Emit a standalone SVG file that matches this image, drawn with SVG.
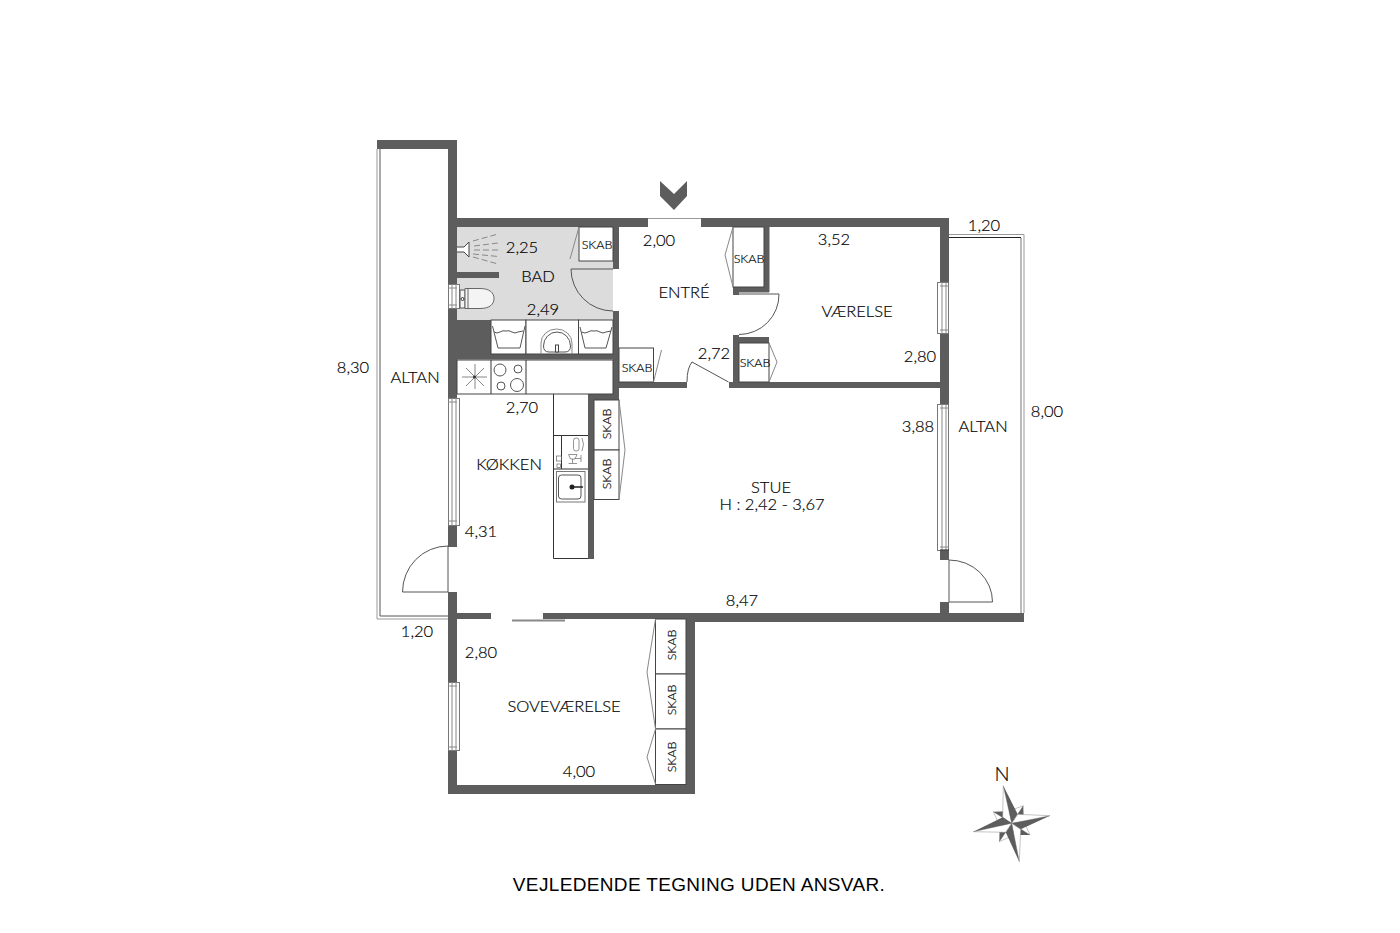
<svg xmlns="http://www.w3.org/2000/svg" width="1400" height="933" viewBox="0 0 1400 933">
<style>
.w{fill:#5d5d5d}
.l{fill:none;stroke:#555;stroke-width:1}
.k{fill:none;stroke:#333;stroke-width:1}
.g{fill:none;stroke:#888;stroke-width:1}
.t{fill:none;stroke:#666;stroke-width:.7}
.b{fill:#fff;stroke:#444;stroke-width:1}
.win{fill:#fff;stroke:#777;stroke-width:1}
.d{fill:#5d5d5d}
.p{fill:#fff;stroke:#888;stroke-width:.5}
text{font-family:Lato,"Noto Sans",sans-serif;font-size:16.500px;font-weight:300;fill:#000;stroke:#111;stroke-width:.2px;text-anchor:middle}
.s{font-size:12.500px}
.f{font-family:"Liberation Sans",Arial,sans-serif;font-size:19px;font-weight:400;letter-spacing:.35px;stroke:none}
</style>
<rect width="1400" height="933" fill="#fff"/>
<g id="bath-floor">
<rect x="457" y="227" width="156" height="93" fill="#dcdcdc"/>
</g>
<g id="walls">
<rect class="w" x="377" y="140" width="80" height="9"/>
<rect class="w" x="448" y="140" width="9" height="654"/>
<rect class="w" x="457" y="218" width="191" height="9"/>
<rect class="w" x="701" y="218" width="248" height="9"/>
<rect class="w" x="940" y="218" width="9" height="404"/>
<rect class="w" x="457" y="272" width="42" height="6"/>
<rect class="w" x="613" y="227" width="6" height="42"/>
<rect class="w" x="613" y="311" width="6" height="89"/>
<rect class="w" x="457" y="320" width="34" height="39"/>
<rect class="w" x="457" y="354" width="162" height="5.500"/>
<rect class="w" x="613" y="382" width="74" height="6"/>
<rect class="w" x="729" y="382" width="220" height="6"/>
<rect class="w" x="733" y="335" width="6" height="53"/>
<rect class="w" x="733" y="337" width="36" height="6"/>
<rect class="w" x="764" y="227" width="5.500" height="65"/>
<rect class="w" x="733" y="287" width="36" height="5.500"/>
<rect class="w" x="733" y="287" width="6" height="8"/>
<rect class="w" x="588" y="394" width="31" height="6"/>
<rect class="w" x="588" y="394" width="6" height="165"/>
<rect class="w" x="457" y="613" width="34" height="6"/>
<rect class="w" x="543" y="613" width="152" height="6"/>
<rect class="w" x="686" y="613" width="338" height="9"/>
<rect class="w" x="686" y="613" width="9" height="181"/>
<rect class="w" x="448" y="785" width="247" height="9"/>
<rect x="448" y="547" width="9" height="45" fill="#fff"/>
<rect x="940" y="560" width="9" height="42" fill="#fff"/>
<rect x="940" y="404" width="9" height="146" fill="#fff"/>
</g>
<g id="railings">
<path d="M377 149V619H448" fill="none" stroke="#999" stroke-width="1"/>
<path d="M380 149V616H448" fill="none" stroke="#555" stroke-width="1"/>
<path d="M949 234.500H1024V613" fill="none" stroke="#999" stroke-width="1"/>
<path d="M949 237.500H1021" fill="none" stroke="#222" stroke-width="1"/>
<path d="M1021 238V613" fill="none" stroke="#777" stroke-width="1"/>
</g>
<g id="windows">
<g id="window-bad"><rect class="win" x="448.500" y="284.500" width="11" height="24"/><path class="g" d="M452 284V309M456 284V309M448 288H457M448 305H457"/></g>
<g id="window-kitchen"><rect class="win" x="448.500" y="398.500" width="11" height="127"/><path class="g" d="M452 398V525M456 398V525M448 402H457M448 521H457"/></g>
<g id="window-bedroom"><rect class="win" x="448.500" y="682.500" width="11" height="68"/><path class="g" d="M452 682V751M456 682V751M448 686H457M448 747H457"/></g>
<g id="window-room"><rect class="win" x="937.500" y="282.500" width="11" height="51"/><path class="g" d="M942 282V334M946 282V334M940 286H949M940 330H949"/></g>
<g id="window-living"><rect class="win" x="937.500" y="404.500" width="11" height="146"/><path class="g" d="M942 404V550M946 404V550M940 408H949M940 547H949"/><path d="M940 550H949" stroke="#222"/></g>
</g>
<g id="doors">
<path class="l" d="M448 546V592H402.500A45.500 46 0 0 1 448 546"/>
<path class="l" d="M949 560V602H992.500A43.500 42 0 0 0 949 560"/>
<path class="l" d="M739 294H779A40 40 0 0 1 739 334.500"/>
<path class="l" d="M613 269H571A42 42 0 0 0 613 311"/>
<path class="l" d="M687 382Q687 368 692 362L728.500 382"/>
<path d="M512 620.500H565" stroke="#888" stroke-width="2"/>
<path d="M648 218.500H701" stroke="#999" stroke-width="1"/>
</g>
<g id="bath-fixtures">
<g id="shower">
<path d="M457 247H464L469 242V257L464 252H457" fill="#fff" stroke="#444"/>
<path d="M473 241L498 234M474 246L498 243M474 250H498M473 254L498 256.500M473 257L498 264" fill="none" stroke="#888" stroke-dasharray="6 3"/>
</g>
<g id="toilet">
<rect x="460" y="290" width="5" height="18" fill="#f4f4f4" stroke="#555"/>
<path d="M465 288.500H480C490 288.500 494 293 494 298.500C494 304 490 308.500 480 308.500H465Z" fill="#f4f4f4" stroke="#666"/>
<path d="M468 289V308" stroke="#666"/>
<circle cx="462.500" cy="299" r="1.500" fill="none" stroke="#333"/>
</g>
<g id="basins">
<rect class="b" x="491" y="320" width="35" height="34"/>
<rect class="b" x="526" y="320" width="52.500" height="34"/>
<rect class="b" x="578.500" y="320" width="34.500" height="34"/>
<path class="l" d="M492.500 326L498 348H520L525 326"/>
<path class="l" d="M494 332Q497 334 500 332T506 331Q509 330 512 332T518 332L523 331"/>
<path class="l" d="M580 327L585 348H606L612 327"/>
<path class="l" d="M581.500 332Q585 334 588 332T594 331Q597 330 600 332T606 332L611 331"/>
<path class="g" d="M541 354V343A15.500 14 0 0 1 572 343V354"/>
<path class="l" d="M543.500 346A13.500 14 0 0 1 570.500 346Q570.500 352 565 352H549Q543.500 352 543.500 346Z"/>
<rect class="b" x="555.500" y="345" width="3" height="7"/>
</g>
</g>
<g id="kitchen-fixtures">
<rect class="b" x="457" y="360" width="156" height="34"/>
<path class="k" d="M491 360V394M526 360V394"/>
<path class="g" d="M462 377H487M475 364V389M466 368L484 386M466 386L484 368"/>
<circle cx="474.500" cy="377" r="1.500" fill="#333"/>
<circle class="l" cx="500" cy="370" r="6"/>
<circle class="l" cx="518" cy="369" r="4"/>
<circle class="l" cx="501" cy="386" r="4"/>
<circle class="l" cx="517" cy="385" r="6.500"/>
<path class="k" d="M553.500 394V558.500H588M553.500 435.500H588M553.500 469H588M561.500 435.500V469"/>
<rect class="win" x="556.500" y="471.500" width="28.500" height="30.500"/>
<rect class="l" x="558.500" y="475" width="22.500" height="24" rx="3"/>
<circle cx="572" cy="487" r="2.500" fill="#222"/>
<path d="M572 487H583" stroke="#222" stroke-width="1.500"/>
<rect class="t" x="556.500" y="456" width="5" height="5"/>
<rect class="t" x="557" y="464" width="3.500" height="3.500"/>
<rect class="t" x="573.500" y="438" width="5.500" height="13" rx="2.500"/>
<path class="t" d="M582 438Q585 444 582 451"/>
<path class="t" d="M568.500 454.500H577L575 459H570.500ZM575 458.500H581M581 455V462M572.500 459V463M568.500 463.500H577"/>
</g>
<g id="closets">
<g id="skab-bad"><rect class="b" x="579" y="227" width="34" height="34"/><path class="g" d="M579 227L570 259"/><text class="s" x="597" y="248.500">SKAB</text></g>
<g id="skab-entre"><rect class="b" x="733" y="227" width="31" height="60"/><path class="g" d="M733 227L725 255L733 287"/><text class="s" x="749" y="262.500">SKAB</text></g>
<g id="skab-vaerelse"><rect class="b" x="739" y="343" width="30" height="39"/><path class="g" d="M769 343L777 362L769 382"/><text class="s" x="755" y="366.500">SKAB</text></g>
<g id="skab-front"><rect class="b" x="619" y="348" width="34.500" height="34"/><path class="g" d="M653.500 382L661.500 350"/><text class="s" x="637" y="371.500">SKAB</text></g>
<g id="skab-k1"><rect class="b" x="594" y="400" width="25" height="50"/><text class="s" transform="translate(611 424) rotate(-90)">SKAB</text></g>
<g id="skab-k2"><rect class="b" x="594" y="450" width="25" height="49.500"/><text class="s" transform="translate(611 474) rotate(-90)">SKAB</text></g>
<path class="g" d="M619 400L625 450L619 499.500"/>
<g id="skab-s1"><rect class="b" x="655.500" y="619" width="30.500" height="55"/><text class="s" transform="translate(676 645) rotate(-90)">SKAB</text></g>
<g id="skab-s2"><rect class="b" x="655.500" y="674" width="30.500" height="55"/><text class="s" transform="translate(676 700) rotate(-90)">SKAB</text></g>
<g id="skab-s3"><rect class="b" x="655.500" y="729" width="30.500" height="55.500"/><text class="s" transform="translate(676 757) rotate(-90)">SKAB</text></g>
<path class="g" d="M655.500 619L647 672L655.500 729L647 757L655.500 784"/>
</g>
<g id="entrance-mark">
<path d="M660 181L674 194L687 181V196L674 210L660 196Z" fill="#5d5d5d"/>
</g>
<g id="compass">
<path class="p" d="M1023.300 805.700L1009 811L1011.700 823.300Z"/>
<path class="d" d="M1023.300 805.700L1023.700 820.900L1011.700 823.300Z"/>
<path class="p" d="M1030 835L1023.700 820.900L1011.700 823.300Z"/>
<path class="d" d="M1030 835L1014 835L1011.700 823.300Z"/>
<path class="p" d="M999.300 841.700L1014 835L1011.700 823.300Z"/>
<path class="d" d="M999.300 841.700L999.700 825.800L1011.700 823.300Z"/>
<path class="p" d="M993.300 811.700L999.700 825.800L1011.700 823.300Z"/>
<path class="d" d="M993.300 811.700L1009.200 811.300L1011.700 823.300Z"/>
<path class="p" d="M1011.700 823.300L1003.300 785.700L1002.700 817.300Z"/>
<path class="d" d="M1011.700 823.300L1003.300 785.700L1017.700 814.300Z"/>
<path class="p" d="M1011.700 823.300L1050 815.700L1017.700 814.300Z"/>
<path class="d" d="M1011.700 823.300L1050 815.700L1020.700 829.300Z"/>
<path class="p" d="M1011.700 823.300L1019.300 861.700L1020.700 829.300Z"/>
<path class="d" d="M1011.700 823.300L1019.300 861.700L1005.700 832.300Z"/>
<path class="p" d="M1011.700 823.300L973.300 831.700L1005.700 832.300Z"/>
<path class="d" d="M1011.700 823.300L973.300 831.700L1002.700 817.300Z"/>
</g>
<g id="labels">
<text x="522" y="253">2,25</text>
<text x="538" y="282">BAD</text>
<text x="543" y="315">2,49</text>
<text x="659" y="246">2,00</text>
<text x="684" y="298">ENTRÉ</text>
<text x="834" y="245">3,52</text>
<text x="857" y="317">VÆRELSE</text>
<text x="920" y="362">2,80</text>
<text x="714" y="359">2,72</text>
<text x="984" y="231">1,20</text>
<text x="1047" y="417">8,00</text>
<text x="983" y="432">ALTAN</text>
<text x="918" y="432">3,88</text>
<text x="771" y="492.500">STUE</text>
<text x="772" y="510">H : 2,42 - 3,67</text>
<text x="742" y="606">8,47</text>
<text x="522" y="413">2,70</text>
<text x="509" y="470">KØKKEN</text>
<text x="481" y="537">4,31</text>
<text x="415" y="383">ALTAN</text>
<text x="353" y="373">8,30</text>
<text x="417" y="637">1,20</text>
<text x="481" y="658">2,80</text>
<text x="564" y="712">SOVEVÆRELSE</text>
<text x="579" y="777">4,00</text>
<text x="1002" y="781" style="font-size:20px">N</text>
<text class="f" x="699" y="891">VEJLEDENDE TEGNING UDEN ANSVAR.</text>
</g>
</svg>
